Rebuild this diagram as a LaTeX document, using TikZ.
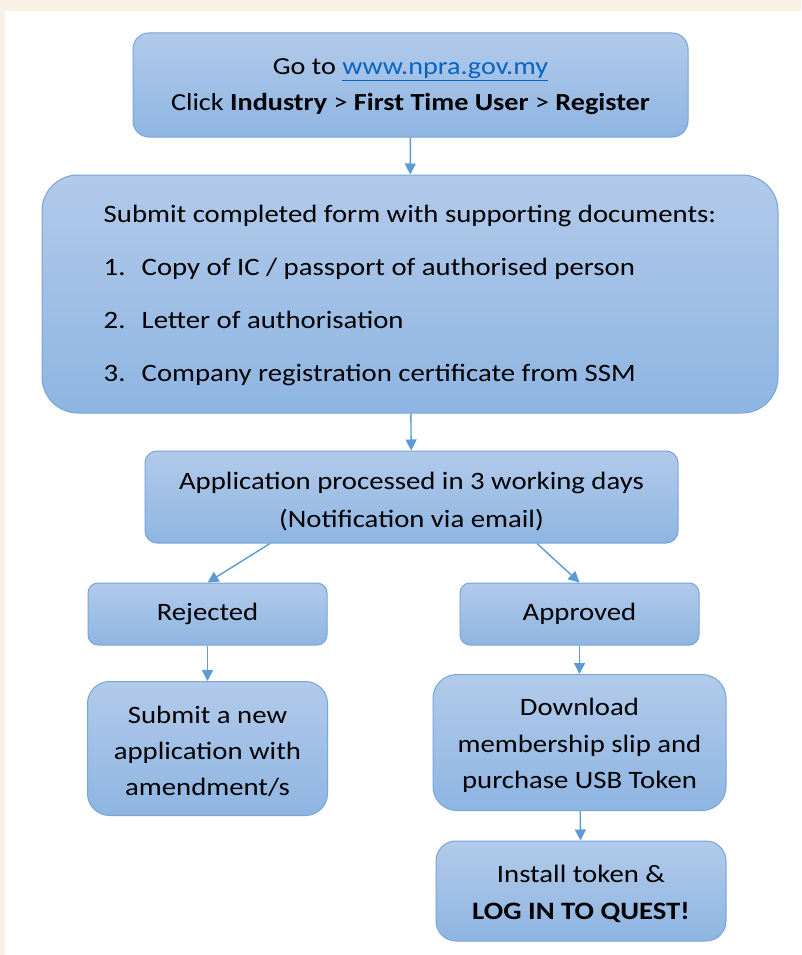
\documentclass[tikz,border=0pt]{standalone}
\usepackage{fontspec}
\setmainfont[FakeStretch=1.15]{Carlito}
\usetikzlibrary{arrows.meta,calc}
\definecolor{boxtop}{RGB}{178,202,234}
\definecolor{boxbot}{RGB}{142,181,226}
\definecolor{boxline}{RGB}{118,165,216}
\definecolor{arrowblue}{RGB}{91,155,213}
\definecolor{linkblue}{RGB}{5,99,193}
\definecolor{cream}{RGB}{249,240,230}
\newcommand{\topgap}[1][24pt]{\rule{0pt}{#1}}
\tikzset{
  stepbox/.style={draw=boxline,line width=1pt,top color=boxtop,bottom color=boxbot,
    align=center,inner sep=0pt,text=black},
  flow/.style={draw=arrowblue,line width=1.4pt,-{Triangle[length=11pt,width=11pt]}}
}
\begin{document}
\begin{tikzpicture}[x=1pt,y=-1pt]
\fill[cream](0,0) rectangle (801,955);
\fill[white](5,11) rectangle (801,955);
% boxes
\node[stepbox,rounded corners=16pt,minimum width=555pt,minimum height=104pt,
  font=\fontsize{24.5}{36}\selectfont] (web) at (410.5,85)
  {\topgap[20pt]Go to \textcolor{linkblue}{\underline{www.npra.gov.my}}\\
   Click \textbf{Industry} > \textbf{First Time User} > \textbf{Register}};
\node[stepbox,rounded corners=36pt,minimum width=736pt,minimum height=238pt,
  font=\fontsize{25}{53}\selectfont] (form) at (410,294)
  {\begin{tabular}{@{}l@{}}
   Submit completed form with supporting documents:\\
   \makebox[38pt][l]{1.}Copy of IC / passport of authorised person\\
   \makebox[38pt][l]{2.}Letter of authorisation\\
   \makebox[38pt][l]{3.}Company registration certificate from SSM\\[5pt]
   \end{tabular}};
\node[stepbox,rounded corners=12pt,minimum width=533pt,minimum height=92pt,
  font=\fontsize{25}{38}\selectfont] (proc) at (411.5,497)
  {\topgap[26pt]Application processed in 3 working days\\(Notification via email)};
\node[stepbox,rounded corners=10pt,minimum width=239pt,minimum height=62pt,
  font=\fontsize{25}{36}\selectfont] (rej) at (207.5,614) {Rejected};
\node[stepbox,rounded corners=10pt,minimum width=239pt,minimum height=62pt,
  font=\fontsize{25}{36}\selectfont] (appr) at (579.5,614) {Approved};
\node[stepbox,rounded corners=22pt,minimum width=240pt,minimum height=134pt,
  font=\fontsize{25}{36}\selectfont] (resub) at (207.5,748.5)
  {\topgap Submit a new\\application with\\amendment/s};
\node[stepbox,rounded corners=24pt,minimum width=293pt,minimum height=136pt,
  font=\fontsize{25}{36.5}\selectfont] (dl) at (579.5,742.5)
  {\topgap Download\\membership slip and\\purchase USB Token};
\node[stepbox,rounded corners=20pt,minimum width=290pt,minimum height=100pt,
  font=\fontsize{25}{37}\selectfont] (quest) at (581,891)
  {\topgap Install token \&\\\textbf{LOG IN TO QUEST!}};
% arrows
\draw[flow](web)--(form);
\draw[flow](form)--(proc);
\draw[flow]($(proc.south west)!0.235!(proc.south east)$)--(rej.north);
\draw[flow]($(proc.south west)!0.735!(proc.south east)$)--(appr.north);
\draw[flow](rej)--(resub);
\draw[flow](appr)--(dl);
\draw[flow](dl)--(quest);
\end{tikzpicture}
\end{document}
